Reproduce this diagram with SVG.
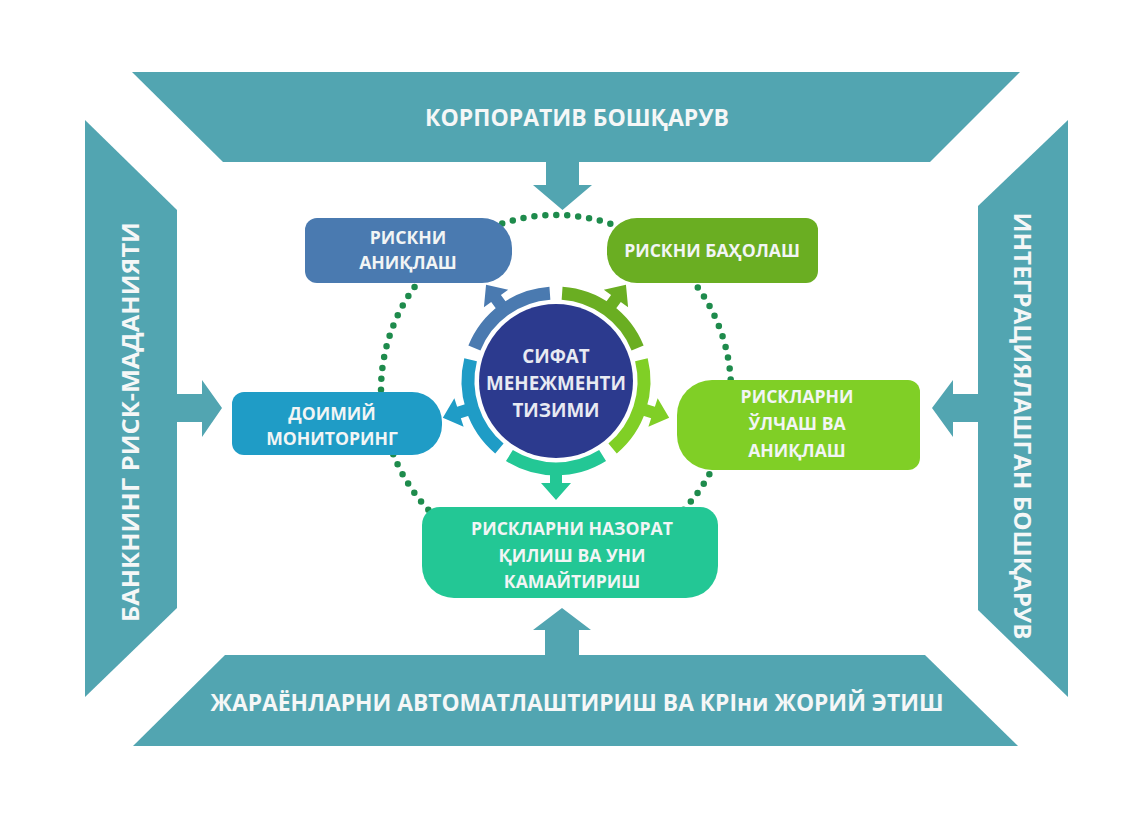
<svg xmlns="http://www.w3.org/2000/svg" width="1148" height="820" viewBox="0 0 1148 820">
<style>
.band{fill:#52a5b1}
.bt{font-family:"Open Sans","DejaVu Sans",sans-serif;font-weight:700;fill:#f5f7f7;font-size:23px;text-anchor:middle}
.nt{font-family:"Open Sans","DejaVu Sans",sans-serif;font-weight:700;fill:#f2f5f5;font-size:17.6px;text-anchor:middle}
.ct{font-family:"Open Sans","DejaVu Sans",sans-serif;font-weight:700;fill:#e8eaf2;font-size:18.8px;text-anchor:middle}
.seg{fill:none;stroke-width:13}
</style>
<rect width="1148" height="820" fill="#ffffff"/>
<g id="frame-top">
<polygon class="band" points="132,72 1020,72 930,162 223,162"/>
<polygon class="band" points="546,160 579,160 579,185 592,185 562.5,210 533,185 546,185"/>
<text class="bt" x="577" y="126">КОРПОРАТИВ БОШҚАРУВ</text>
</g>
<g id="frame-left">
<polygon class="band" points="85,120 177,210 177,608 85,697"/>
<polygon class="band" points="175,394 202,394 202,380 222,408 202,437 202,422 175,422"/>
<text class="bt" transform="translate(139,422) rotate(-90)" textLength="400" lengthAdjust="spacingAndGlyphs">БАНКНИНГ РИСК-МАДАНИЯТИ</text>
</g>
<g id="frame-right">
<polygon class="band" points="1068,120 978,206 978,610 1068,697"/>
<polygon class="band" points="980,394 953,394 953,380 932,408 953,437 953,422 980,422"/>
<text class="bt" transform="translate(1014,426) rotate(90)" textLength="427" lengthAdjust="spacingAndGlyphs">ИНТЕГРАЦИЯЛАШГАН БОШҚАРУВ</text>
</g>
<g id="frame-bottom">
<polygon class="band" points="225,655 925,655 1018,746 133,746"/>
<polygon class="band" points="545,657 545,630 533,630 562,608 591,630 579,630 579,657"/>
<text class="bt" x="577" y="711" textLength="733" lengthAdjust="spacingAndGlyphs">ЖАРАЁНЛАРНИ АВТОМАТЛАШТИРИШ ВА КРІни ЖОРИЙ ЭТИШ</text>
</g>
<g id="connectors">
<circle cx="556" cy="390" r="175" fill="none" stroke="#1e8b4c" stroke-width="6.5" stroke-linecap="round" stroke-dasharray="0 10.995"/>
</g>
<g id="center">
<circle cx="556" cy="381" r="77" fill="#2c3a8e"/>
<path class="seg" stroke="#4a7ab0" d="M474.4,348 A88,88 0 0 1 549.9,293.2"/>
<polygon fill="#4a7ab0" transform="translate(556,381) rotate(234)" points="92,-6 102,-6 102,-15 119,0 102,15 102,6 92,6"/>
<path class="seg" stroke="#6aae22" d="M562.1,293.2 A88,88 0 0 1 637.6,348"/>
<polygon fill="#6aae22" transform="translate(556,381) rotate(306)" points="92,-6 102,-6 102,-15 119,0 102,15 102,6 92,6"/>
<path class="seg" stroke="#80cf26" d="M641.4,359.7 A88,88 0 0 1 612.6,448.4"/>
<polygon fill="#80cf26" transform="translate(556,381) rotate(18)" points="92,-6 102,-6 102,-15 119,0 102,15 102,6 92,6"/>
<path class="seg" stroke="#23c795" d="M602.6,455.6 A88,88 0 0 1 509.4,455.6"/>
<polygon fill="#23c795" transform="translate(556,381) rotate(90)" points="92,-6 102,-6 102,-15 119,0 102,15 102,6 92,6"/>
<path class="seg" stroke="#1f9cc6" d="M499.4,448.4 A88,88 0 0 1 470.6,359.7"/>
<polygon fill="#1f9cc6" transform="translate(556,381) rotate(162)" points="92,-6 102,-6 102,-15 119,0 102,15 102,6 92,6"/>
<text class="ct" x="556" y="363">СИФАТ</text>
<text class="ct" x="556" y="390">МЕНЕЖМЕНТИ</text>
<text class="ct" x="556" y="417">ТИЗИМИ</text>
</g>
<g id="node-identify">
<path fill="#4a7ab0" d="M317,218 H482 A30,30 0 0 1 512,248 V253 A30,30 0 0 1 482,283 H317 A12,12 0 0 1 305,271 V230 A12,12 0 0 1 317,218 Z"/>
<text class="nt" x="408" y="244">РИСКНИ</text>
<text class="nt" x="408" y="269">АНИҚЛАШ</text>
</g>
<g id="node-assess">
<path fill="#6aae22" d="M637,218 H806 A12,12 0 0 1 818,230 V271 A12,12 0 0 1 806,283 H637 A30,30 0 0 1 607,253 V248 A30,30 0 0 1 637,218 Z"/>
<text class="nt" x="712" y="257">РИСКНИ БАҲОЛАШ</text>
</g>
<g id="node-monitor">
<path fill="#1f9cc6" d="M244,392 H412 A30,30 0 0 1 442,422 V425 A30,30 0 0 1 412,455 H244 A12,12 0 0 1 232,443 V404 A12,12 0 0 1 244,392 Z"/>
<text class="nt" x="332" y="420">ДОИМИЙ</text>
<text class="nt" x="332" y="445">МОНИТОРИНГ</text>
</g>
<g id="node-measure">
<path fill="#80cf26" d="M712,380 H908 A12,12 0 0 1 920,392 V458 A12,12 0 0 1 908,470 H712 A35,35 0 0 1 677,435 V415 A35,35 0 0 1 712,380 Z"/>
<text class="nt" x="797" y="403">РИСКЛАРНИ</text>
<text class="nt" x="797" y="430">ЎЛЧАШ ВА</text>
<text class="nt" x="797" y="457">АНИҚЛАШ</text>
</g>
<g id="node-control">
<path fill="#23c795" d="M440,507 H700 A18,18 0 0 1 718,525 V566 A32,32 0 0 1 686,598 H454 A32,32 0 0 1 422,566 V525 A18,18 0 0 1 440,507 Z"/>
<text class="nt" x="572" y="535">РИСКЛАРНИ НАЗОРАТ</text>
<text class="nt" x="572" y="562">ҚИЛИШ ВА УНИ</text>
<text class="nt" x="572" y="588">КАМАЙТИРИШ</text>
</g>
</svg>
